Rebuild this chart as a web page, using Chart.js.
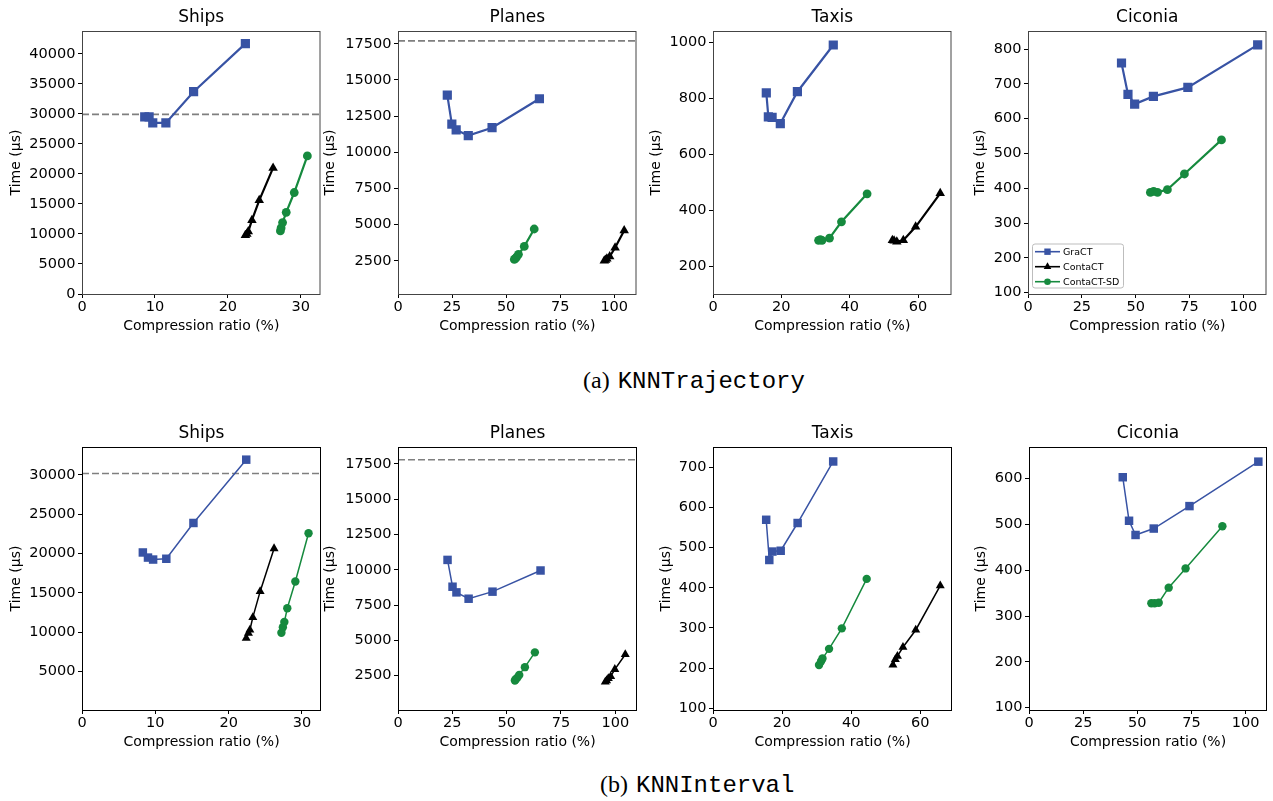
<!DOCTYPE html>
<html>
<head>
<meta charset="utf-8">
<script src="https://cdn.jsdelivr.net/npm/chart.js@4.4.1/dist/chart.umd.min.js"></script>
<style>
  body { margin: 0; background: #fff; }
  #fig { position: relative; width: 1273px; height: 801px; overflow: hidden; background: #fff; }
  #fig canvas { position: absolute; }
  .caption { position: absolute; white-space: nowrap; line-height: 24px; color: #000;
             font-family: 'Liberation Serif', serif; font-size: 24px; }
  .caption .fn { font-family: 'Liberation Mono', monospace; font-size: 24px; margin-left: 2px; }
</style>
</head>
<body>
<div id="fig">
  <div class="caption" style="left:583px;top:368px">(a) <span class="fn">KNNTrajectory</span></div>
  <div class="caption" style="left:600px;top:772px">(b) <span class="fn">KNNInterval</span></div>
</div>
<script>
const seriesNames = ['GraCT', 'ContaCT', 'ContaCT-SD'];

// (a) KNNTrajectory  -- [compression ratio %, time µs]
const trajShipsGraCT = [[8.6,29500],[9.2,29500],[9.7,28500],[11.5,28500],[15.3,33700],[22.4,41700]];
const trajShipsContaCT = [[22.4,9800],[22.6,10000],[22.8,10400],[23.3,12300],[24.3,15600],[26.2,21000]];
const trajShipsContaCTSD = [[27.2,10500],[27.3,11000],[27.5,11900],[28.0,13600],[29.1,16900],[30.9,23000]];
const trajShipsBaseline = 29900;

const trajPlanesGraCT = [[22.8,13950],[24.9,11950],[26.9,11550],[32.5,11150],[43.5,11700],[65.4,13700]];
const trajPlanesContaCT = [[95.4,2500],[96.0,2560],[96.6,2650],[97.9,2800],[100.4,3400],[104.6,4600]];
const trajPlanesContaCTSD = [[53.8,2600],[54.2,2650],[54.8,2750],[55.7,2950],[58.4,3500],[63.0,4700]];
const trajPlanesBaseline = 17700;

const trajTaxisGraCT = [[15.6,819],[16.2,733],[17.3,731],[19.7,709],[24.7,823],[35.2,990]];
const trajTaxisContaCT = [[52.5,292],[53.0,290],[53.8,287],[55.7,292],[59.3,340],[66.5,460]];
const trajTaxisContaCTSD = [[30.9,292],[31.4,294],[31.9,292],[34.1,300],[37.6,358],[45.1,458]];

const trajCiconiaGraCT = [[43.4,760],[46.4,670],[49.5,642],[58.2,664],[74.2,690],[106.6,812]];
const trajCiconiaContaCT = [];
const trajCiconiaContaCTSD = [[56.8,388],[58.3,391],[60.1,388],[64.7,396],[72.6,441],[89.8,539]];

// (b) KNNInterval
const intShipsGraCT = [[8.3,20150],[9.0,19500],[9.7,19250],[11.5,19350],[15.2,23900],[22.4,31950]];
const intShipsContaCT = [[22.4,9250],[22.7,9900],[22.9,10300],[23.3,11900],[24.3,15200],[26.2,20650]];
const intShipsContaCTSD = [[27.2,9950],[27.4,10650],[27.6,11300],[28.0,13050],[29.1,16450],[30.9,22600]];
const intShipsBaseline = 30200;

const intPlanesGraCT = [[22.8,10700],[25.1,8800],[26.9,8400],[32.5,7950],[43.5,8450],[65.6,9950]];
const intPlanesContaCT = [[95.4,2050],[96.0,2150],[96.8,2300],[97.9,2450],[99.8,2950],[104.6,4000]];
const intPlanesContaCTSD = [[53.8,2150],[54.2,2250],[54.9,2350],[55.8,2550],[58.4,3100],[63.0,4150]];
const intPlanesBaseline = 17800;

const intTaxisGraCT = [[15.4,569],[16.3,469],[17.2,490],[19.6,492],[24.5,561],[34.8,714]];
const intTaxisContaCT = [[52.1,208],[52.8,222],[53.4,230],[55.0,252],[58.7,295],[65.8,405]];
const intTaxisContaCTSD = [[30.7,208],[31.3,217],[31.7,224],[33.6,248],[37.3,299],[44.5,422]];

const intCiconiaGraCT = [[43.3,603],[46.2,508],[49.2,477],[57.6,491],[74.1,540],[105.9,637]];
const intCiconiaContaCT = [];
const intCiconiaContaCTSD = [[56.5,328],[58.0,328],[59.9,329],[64.5,362],[72.3,404],[89.3,496]];

// tick labels
const shipsXTicks = [0, 10, 20, 30];
const wideXTicks = [0, 25, 50, 75, 100];
const taxisXTicks = [0, 20, 40, 60];
const trajShipsYTicks = [0, 5000, 10000, 15000, 20000, 25000, 30000, 35000, 40000];
const planesYTicks = [2500, 5000, 7500, 10000, 12500, 15000, 17500];
const trajTaxisYTicks = [200, 400, 600, 800, 1000];
const trajCiconiaYTicks = [100, 200, 300, 400, 500, 600, 700, 800];
const intShipsYTicks = [5000, 10000, 15000, 20000, 25000, 30000];
const intTaxisYTicks = [100, 200, 300, 400, 500, 600, 700];
const intCiconiaYTicks = [100, 200, 300, 400, 500, 600];

// axis limits
const trajShipsXRange = [0, 32.7], trajShipsYRange = [0, 43800];
const trajPlanesXRange = [0, 110.3], trajPlanesYRange = [210, 18380];
const trajTaxisXRange = [0, 69.8], trajTaxisYRange = [100, 1040];
const trajCiconiaXRange = [0, 110.7], trajCiconiaYRange = [96, 852];
const intShipsXRange = [0, 32.6], intShipsYRange = [120, 33560];
const intPlanesXRange = [0, 110], intPlanesYRange = [65, 18700];
const intTaxisXRange = [0, 69.2], intTaxisYRange = [96, 750];
const intCiconiaXRange = [0, 109.9], intCiconiaYRange = [95, 669];

const colors = ['#3853a4', '#000000', '#168a3e'];
const markers = ['rect', 'triangle', 'circle'];
const FONT = 'DejaVu Sans';

const rowStyle = {
  a: { top: 31, lineWidth: 2.2, radius: [6.5, 5.5, 4.4], frame: '#444444', dash: 1.8 },
  b: { top: 447, lineWidth: 1.5, radius: [6, 5.2, 4.2], frame: '#000000', dash: 1.5 }
};

const panels = [
  { row: 'a', title: 'Ships', left: 82, width: 243, ytp: 6.1, series: [trajShipsGraCT, trajShipsContaCT, trajShipsContaCTSD],
    xr: trajShipsXRange, yr: trajShipsYRange, xt: shipsXTicks, yt: trajShipsYTicks, base: trajShipsBaseline },
  { row: 'a', title: 'Planes', left: 398, width: 243, ytp: 3.9, series: [trajPlanesGraCT, trajPlanesContaCT, trajPlanesContaCTSD],
    xr: trajPlanesXRange, yr: trajPlanesYRange, xt: wideXTicks, yt: planesYTicks, base: trajPlanesBaseline },
  { row: 'a', title: 'Taxis', left: 713, width: 243, ytp: 14.9, series: [trajTaxisGraCT, trajTaxisContaCT, trajTaxisContaCTSD],
    xr: trajTaxisXRange, yr: trajTaxisYRange, xt: taxisXTicks, yt: trajTaxisYTicks },
  { row: 'a', title: 'Ciconia', left: 1028, width: 243, ytp: 24.1, series: [trajCiconiaGraCT, trajCiconiaContaCT, trajCiconiaContaCTSD],
    xr: trajCiconiaXRange, yr: trajCiconiaYRange, xt: wideXTicks, yt: trajCiconiaYTicks, legend: true },
  { row: 'b', title: 'Ships', left: 82, width: 243, ytp: 5.9, series: [intShipsGraCT, intShipsContaCT, intShipsContaCTSD],
    xr: intShipsXRange, yr: intShipsYRange, xt: shipsXTicks, yt: intShipsYTicks, base: intShipsBaseline },
  { row: 'b', title: 'Planes', left: 398, width: 243, ytp: 3.9, series: [intPlanesGraCT, intPlanesContaCT, intPlanesContaCTSD],
    xr: intPlanesXRange, yr: intPlanesYRange, xt: wideXTicks, yt: planesYTicks, base: intPlanesBaseline },
  { row: 'b', title: 'Taxis', left: 713, width: 243, ytp: 24.9, series: [intTaxisGraCT, intTaxisContaCT, intTaxisContaCTSD],
    xr: intTaxisXRange, yr: intTaxisYRange, xt: taxisXTicks, yt: intTaxisYTicks },
  { row: 'b', title: 'Ciconia', left: 1029, width: 242, ytp: 23.6, series: [intCiconiaGraCT, intCiconiaContaCT, intCiconiaContaCTSD],
    xr: intCiconiaXRange, yr: intCiconiaYRange, xt: wideXTicks, yt: intCiconiaYTicks }
];

// spines + dashed reference line
const framePlugin = {
  id: 'frame',
  beforeDatasetsDraw(chart, args, opts) {
    if (opts.baseline == null) return;
    const { ctx, chartArea: a, scales } = chart;
    const py = scales.y.getPixelForValue(opts.baseline);
    ctx.save();
    ctx.strokeStyle = '#7f7f7f';
    ctx.lineWidth = opts.dashWidth;
    ctx.setLineDash([7, 3]);
    ctx.beginPath();
    ctx.moveTo(a.left, py);
    ctx.lineTo(a.right, py);
    ctx.stroke();
    ctx.restore();
  },
  afterDraw(chart, args, opts) {
    const { ctx, chartArea: a } = chart;
    ctx.save();
    ctx.strokeStyle = opts.color;
    ctx.lineWidth = 1;
    ctx.strokeRect(a.left + 0.5, a.top + 0.5, a.right - a.left - 1, a.bottom - a.top);
    ctx.restore();
  }
};

function drawMarker(ctx, style, x, y, r) {
  ctx.beginPath();
  if (style === 'rect') {
    ctx.rect(x - r, y - r, 2 * r, 2 * r);
  } else if (style === 'triangle') {
    ctx.moveTo(x, y - r);
    ctx.lineTo(x + r * 0.866, y + r * 0.5);
    ctx.lineTo(x - r * 0.866, y + r * 0.5);
    ctx.closePath();
  } else {
    ctx.arc(x, y, r, 0, Math.PI * 2);
  }
  ctx.fill();
}

// matplotlib-like legend inside the plot, lower left
const innerLegend = {
  id: 'innerLegend',
  afterDraw(chart, args, opts) {
    if (!opts.show) return;
    const { ctx, chartArea: a } = chart;
    const bx = a.left + 4.5, by = a.bottom - 50, bw = 91, bh = 44;
    ctx.save();
    ctx.fillStyle = 'rgba(255,255,255,0.8)';
    ctx.strokeStyle = '#bdbdbd';
    ctx.lineWidth = 1;
    ctx.beginPath();
    ctx.roundRect(bx, by, bw, bh, 2.5);
    ctx.fill();
    ctx.stroke();
    ctx.font = '9.5px "' + FONT + '"';
    ctx.textBaseline = 'middle';
    const sizes = [3.2, 4.4, 3.3];
    chart.data.datasets.forEach((ds, i) => {
      const cy = a.bottom - 42.3 + i * 15;
      ctx.strokeStyle = ds.borderColor;
      ctx.fillStyle = ds.borderColor;
      ctx.lineWidth = 1.6;
      ctx.beginPath();
      ctx.moveTo(a.left + 7, cy);
      ctx.lineTo(a.left + 32, cy);
      ctx.stroke();
      drawMarker(ctx, markers[i], a.left + 19.5, cy, sizes[i]);
      ctx.fillStyle = '#000';
      ctx.fillText(ds.label, a.left + 35, cy + 0.5);
    });
    ctx.restore();
  }
};

Chart.register(framePlugin, innerLegend);
Chart.defaults.color = '#000';

const fig = document.getElementById('fig');

function makePanel(p) {
  const st = rowStyle[p.row];
  const plotH = 263;
  const W = 80 + p.width + 2, H = 31 + plotH + 50;
  const cv = document.createElement('canvas');
  cv.width = W; cv.height = H;
  cv.style.left = (p.left - 80) + 'px';
  cv.style.top = (st.top - 31) + 'px';
  cv.style.width = W + 'px';
  cv.style.height = H + 'px';
  fig.appendChild(cv);

  const datasets = p.series.map((d, i) => ({
    label: seriesNames[i],
    data: d.map(([x, y]) => ({ x, y })),
    showLine: true,
    borderColor: colors[i],
    backgroundColor: colors[i],
    borderWidth: st.lineWidth,
    pointStyle: markers[i],
    pointRadius: st.radius[i],
    pointHoverRadius: st.radius[i],
    pointBorderWidth: 0
  }));

  const tickFont = { family: FONT, size: 14.5 };
  const titleFont = { family: FONT, size: 14 };
  const gridOpts = { drawOnChartArea: false, drawTicks: true, tickLength: 4, tickColor: '#000', tickWidth: 1 };

  new Chart(cv, {
    type: 'scatter',
    data: { datasets },
    options: {
      responsive: false,
      animation: false,
      devicePixelRatio: 1,
      layout: { padding: { right: 2 } },
      plugins: {
        legend: { display: false },
        tooltip: { enabled: false },
        title: {
          display: true, text: p.title, fullSize: false,
          font: { family: FONT, size: 17, weight: 'normal' },
          padding: { top: 7.5, bottom: 3.1 }
        },
        frame: { color: st.frame, baseline: p.base, dashWidth: st.dash },
        innerLegend: { show: !!p.legend }
      },
      scales: {
        x: {
          type: 'linear', position: 'bottom',
          min: p.xr[0], max: p.xr[1],
          afterBuildTicks: s => { s.ticks = p.xt.map(v => ({ value: v })); },
          afterFit: s => { s.height = 50; },
          ticks: { font: tickFont, padding: 1, maxRotation: 0, callback: v => String(v) },
          grid: gridOpts,
          border: { display: false },
          title: { display: true, text: 'Compression ratio (%)', font: titleFont, padding: { top: 0, bottom: 9 } }
        },
        y: {
          type: 'linear', position: 'left',
          min: p.yr[0], max: p.yr[1],
          afterBuildTicks: s => { s.ticks = p.yt.map(v => ({ value: v })); },
          afterFit: s => { s.width = 80; },
          ticks: { font: tickFont, padding: 2.5, callback: v => String(v) },
          grid: gridOpts,
          border: { display: false },
          title: { display: true, text: 'Time (µs)', font: titleFont, padding: { top: p.ytp, bottom: 0 } }
        }
      }
    }
  });
}

panels.forEach(makePanel);
</script>
</body>
</html>
